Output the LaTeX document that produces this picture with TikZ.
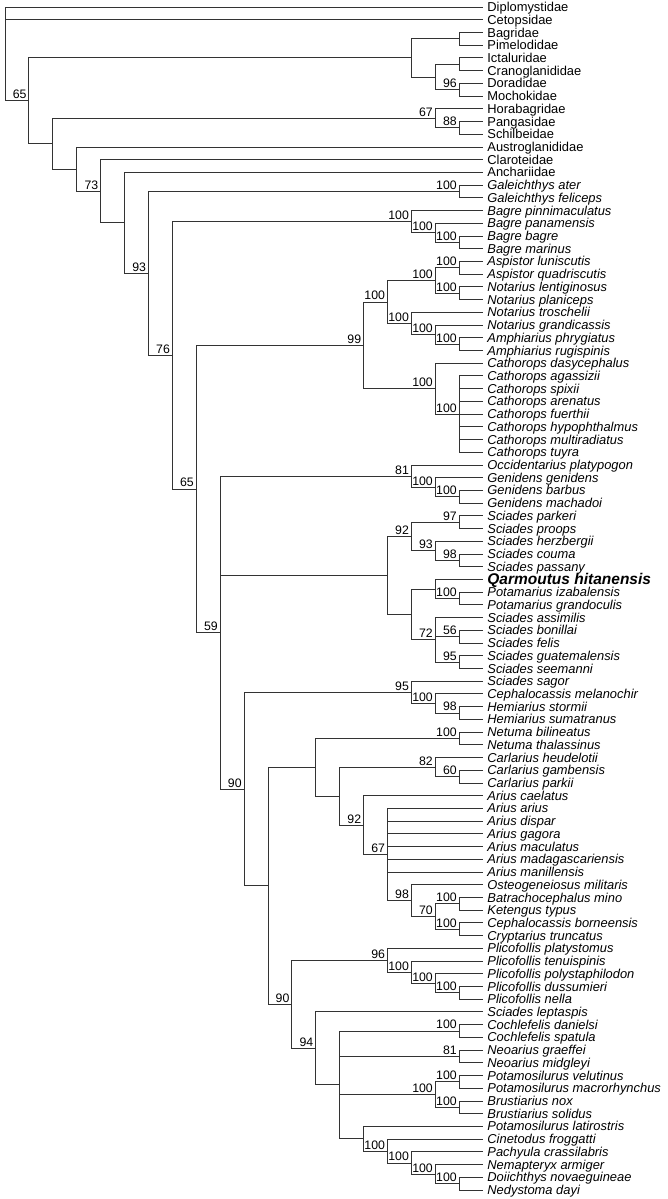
\documentclass[tikz,border=0pt]{standalone}
\usepackage{fontspec}
\setmainfont{Liberation Sans}
\tikzset{every picture/.style={line width=0.8pt}}

\begin{document}
\begin{tikzpicture}[x=23.9pt, y=-12.72pt,
        every node/.style={font=\fontsize{12.9}{14}\selectfont},
        leaf/.style={anchor=west, inner xsep=4pt, inner ysep=0pt, text height=10.2pt, text depth=1pt},
        sp/.style={leaf, font=\fontsize{12.9}{14}\selectfont\itshape},
        qh/.style={anchor=west, inner xsep=4pt, inner ysep=0pt, text height=12pt, text depth=0.9pt,
            font=\fontsize{15.5}{17}\selectfont\bfseries\itshape},
        bs/.style={anchor=base east, inner sep=0pt, xshift=-2pt, yshift=2pt,
            font=\fontsize{12.3}{14}\selectfont},
        branch/.style={draw=black!80}]
    \useasboundingbox[fill=white] (-0.2092,-0.5503) rectangle (27.699,93.711);

    \foreach \name [count=\i] in {Diplomystidae, Cetopsidae, Bagridae, Pimelodidae, Ictaluridae,
            Cranoglanididae, Doradidae, Mochokidae, Horabagridae, Pangasidae, Schilbeidae,
            Austroglanididae, Claroteidae, Anchariidae}
        \node[leaf] (l\i) at (20,\i-1) {\name};
    \foreach \name [count=\i from 15] in {Galeichthys ater, Galeichthys feliceps, Bagre pinnimaculatus,
            Bagre panamensis, Bagre bagre, Bagre marinus, Aspistor luniscutis, Aspistor quadriscutis,
            Notarius lentiginosus, Notarius planiceps, Notarius troschelii, Notarius grandicassis,
            Amphiarius phrygiatus, Amphiarius rugispinis, Cathorops dasycephalus, Cathorops agassizii,
            Cathorops spixii, Cathorops arenatus, Cathorops fuerthii, Cathorops hypophthalmus,
            Cathorops multiradiatus, Cathorops tuyra, Occidentarius platypogon, Genidens genidens,
            Genidens barbus, Genidens machadoi, Sciades parkeri, Sciades proops, Sciades herzbergii,
            Sciades couma, Sciades passany}
        \node[sp] (l\i) at (20,\i-1) {\name};
    \node[qh] (l46) at (20,45) {Qarmoutus hitanensis};
    \foreach \name [count=\i from 47] in {Potamarius izabalensis, Potamarius grandoculis,
            Sciades assimilis, Sciades bonillai, Sciades felis, Sciades guatemalensis, Sciades seemanni,
            Sciades sagor, Cephalocassis melanochir, Hemiarius stormii, Hemiarius sumatranus,
            Netuma bilineatus, Netuma thalassinus, Carlarius heudelotii, Carlarius gambensis,
            Carlarius parkii, Arius caelatus, Arius arius, Arius dispar, Arius gagora, Arius maculatus,
            Arius madagascariensis, Arius manillensis, Osteogeneiosus militaris, Batrachocephalus mino,
            Ketengus typus, Cephalocassis borneensis, Cryptarius truncatus, Plicofollis platystomus,
            Plicofollis tenuispinis, Plicofollis polystaphilodon, Plicofollis dussumieri, Plicofollis nella,
            Sciades leptaspis, Cochlefelis danielsi, Cochlefelis spatula, Neoarius graeffei,
            Neoarius midgleyi, Potamosilurus velutinus, Potamosilurus macrorhynchus, Brustiarius nox,
            Brustiarius solidus, Potamosilurus latirostris, Cinetodus froggatti, Pachyula crassilabris,
            Nemapteryx armiger, Doiichthys novaeguineae, Nedystoma dayi}
        \node[sp] (l\i) at (20,\i-1) {\name};

    \foreach \n/\x/\y in {root/0/3.6866, n1/1/7.3731, cA/17/4, c34/19/2.5, c58/18/5.5, c56/19/4.5,
            c78/19/6.5, cB/2/10.7463, c67/18/8.75, c88/19/9.5, cD/3/12.7425, cE/4/14.4850,
            cF/5/16.9701, cG/6/20.9401, gal/19/14.5, cH/7/27.3803, bag/17/16.875, bag2/18/17.75,
            bag3/19/18.5, n8/8/37.8855, n99/15/26.5938, n16/16/23.1875, an18/18/21.5, asp/19/20.5,
            nota/19/22.5, nt/17/24.875, ng/18/25.75, amph/19/26.5, cat18/18/30, cat19/19/32,
            n59/9/49.1772, n81/17/36.875, gen18/18/37.75, gen19/19/38.5, n576/16/44.6875,
            s92/17/41.625, s97/19/40.5, s93/18/42.75, s98/19/43.5, n615/17/47.75, q18/18/45.75,
            pot/19/46.5, s72/18/49.75, s56/19/49.5, s95/19/51.5, n90/10/61.4795, n95/17/53.875,
            cep18/18/54.75, hem/19/55.5, n11/11/69.0840, n13/13/59.7656, net/19/57.5,
            n14/14/62.0313, car/18/59.75, car19/19/60.5, n92/15/64.3125, n67/16/66.625,
            n98/17/70.25, n70/18/71.5, bat/19/70.5, cep/19/72.5, n12/12/78.4023, n96/16/74.9375,
            p17/17/75.875, p18/18/76.75, p19/19/77.5, n94/13/81.8672, m14/14/84.7344, coc/19/80.5,
            neo/19/82.5, pb18/18/85.5, pv/19/84.5, br/19/86.5, m15/15/88.9688, m16/16/89.9375,
            m17/17/90.875, m18/18/91.75, m19/19/92.5}
        \coordinate (\n) at (\x,\y);

    \foreach \a/\b in {root/l1, root/l2, root/n1, n1/cA, n1/cB,
            cA/c34, cA/c58, c34/l3, c34/l4, c58/c56, c58/c78, c56/l5, c56/l6, c78/l7, c78/l8,
            cB/c67, cB/cD, c67/l9, c67/c88, c88/l10, c88/l11,
            cD/l12, cD/cE, cE/l13, cE/cF, cF/l14, cF/cG, cG/gal, cG/cH, gal/l15, gal/l16,
            cH/bag, cH/n8, bag/l17, bag/bag2, bag2/l18, bag2/bag3, bag3/l19, bag3/l20,
            n8/n99, n8/n59, n99/n16, n99/cat18, n16/an18, n16/nt, an18/asp, an18/nota,
            asp/l21, asp/l22, nota/l23, nota/l24, nt/l25, nt/ng, ng/l26, ng/amph, amph/l27, amph/l28,
            cat18/l29, cat18/cat19, cat19/l30, cat19/l31, cat19/l32, cat19/l33, cat19/l34,
            cat19/l35, cat19/l36,
            n59/n81, n59/n576, n59/n90, n81/l37, n81/gen18, gen18/l38, gen18/gen19,
            gen19/l39, gen19/l40,
            n576/s92, n576/n615, s92/s97, s92/s93, s97/l41, s97/l42, s93/l43, s93/s98,
            s98/l44, s98/l45,
            n615/q18, n615/s72, q18/l46, q18/pot, pot/l47, pot/l48, s72/l49, s72/s56, s72/s95,
            s56/l50, s56/l51, s95/l52, s95/l53,
            n90/n95, n90/n11, n95/l54, n95/cep18, cep18/l55, cep18/hem, hem/l56, hem/l57,
            n11/n13, n11/n12, n13/net, n13/n14, net/l58, net/l59, n14/car, n14/n92,
            car/l60, car/car19, car19/l61, car19/l62,
            n92/l63, n92/n67, n67/l64, n67/l65, n67/l66, n67/l67, n67/l68, n67/l69, n67/n98,
            n98/l70, n98/n70, n70/bat, n70/cep, bat/l71, bat/l72, cep/l73, cep/l74,
            n12/n96, n12/n94, n96/l75, n96/p17, p17/l76, p17/p18, p18/l77, p18/p19,
            p19/l78, p19/l79,
            n94/l80, n94/m14, m14/coc, m14/neo, m14/pb18, m14/m15, coc/l81, coc/l82,
            neo/l83, neo/l84, pb18/pv, pb18/br, pv/l85, pv/l86, br/l87, br/l88,
            m15/l89, m15/m16, m16/l90, m16/m17, m17/l91, m17/m18, m18/l92, m18/m19,
            m19/l93, m19/l94}
        \draw[branch] (\a) |- (\b);

    \foreach \n/\t in {n1/65, c78/96, c67/67, c88/88, cE/73, cG/93, gal/100, cH/76, bag/100,
            bag2/100, bag3/100, n8/65, n99/99, n16/100, an18/100, asp/100, nota/100, nt/100,
            ng/100, amph/100, cat18/100, cat19/100, n59/59, n81/81, gen18/100, gen19/100,
            s92/92, s97/97, s93/93, s98/98, pot/100, s72/72, s56/56, s95/95, n90/90, n95/95,
            cep18/100, hem/98, net/100, car/82, car19/60, n92/92, n67/67, n98/98, n70/70,
            bat/100, cep/100, n12/90, n96/96, p17/100, p18/100, p19/100, n94/94, coc/100,
            neo/81, pb18/100, pv/100, br/100, m16/100, m17/100, m18/100, m19/100}
        \node[bs] (b-\n) at (\n) {\t};
\end{tikzpicture}
\end{document}
